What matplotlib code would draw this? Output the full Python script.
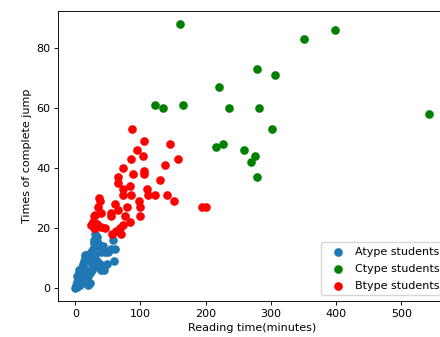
import matplotlib
matplotlib.use("Agg")
import matplotlib.pyplot as plt

# Atype students (blue)
a_x = [0, 1, 2, 3, 4, 2, 5, 6, 3, 8, 7, 10, 5, 9, 12, 8, 11, 14, 13, 15, 18, 20, 16, 19, 22,
       17, 21, 25, 24, 27, 28, 30, 29, 32, 33, 35, 31, 34, 36, 38, 40, 42, 45, 48, 50, 55, 58,
       60, 61, 44, 26, 22, 29, 40, 20, 23, 15, 35]
a_y = [0, 1, 0.5, 2, 3, 4, 5, 3, 1, 6, 2, 7, 6, 4, 8, 1, 3, 9, 5, 10, 2, 1, 6, 4, 5,
       11, 9, 8, 12, 13, 16, 18, 15, 14, 17, 15, 11, 9, 7, 8, 12, 14, 12, 8, 12, 13, 16,
       9, 13, 6, 6, 10, 8, 6, 5, 1.7, 11, 7.3]

# Ctype students (green)
c_x = [160, 350, 398, 278, 306, 220, 122, 135, 165, 235, 282, 543, 302, 216, 227, 258, 276,
       270, 279]
c_y = [88, 83, 86, 73, 71, 67, 61, 60, 61, 60, 60, 58, 53, 47, 48, 46, 44, 42, 37]

# Btype students (red)
b_x = [87, 106, 146, 95, 104, 85, 158, 138, 73, 105, 105, 89, 66, 66, 130, 84, 73, 110, 73,
       86, 112, 122, 141, 152, 97, 36, 38, 61, 100, 194, 201, 80, 35, 65, 55, 76, 100, 31,
       40, 55, 28, 84, 73, 68, 24, 33, 40, 30, 45, 56, 70, 62, 27, 28]
b_y = [53, 49, 48, 46, 44, 43, 43, 41, 40, 39, 38, 38, 37, 35, 36, 34, 33, 33, 31,
       31, 31, 31, 31, 29, 29, 30, 29, 28, 27, 27, 27, 27, 27, 26, 25, 24, 24, 24.5,
       25, 24, 24, 22, 21, 20, 21, 21.5, 20.5, 20, 20, 18, 18, 19, 22, 20]

plt.rcParams.update({
    "font.size": 8,
    "xtick.major.size": 2.8,
    "ytick.major.size": 2.8,
    "xtick.major.width": 0.65,
    "ytick.major.width": 0.65,
    "axes.linewidth": 0.65,
    "xtick.major.pad": 2.8,
    "ytick.major.pad": 2.8,
})

fig = plt.figure(figsize=(4.4, 3.37), dpi=100)
ax = fig.add_axes([58 / 440, 1 - 301 / 337, (447 - 58) / 440, (301 - 10.7) / 337])

ax.scatter(a_x, a_y, s=27, color="#1f77b4", label="Atype students")
ax.scatter(c_x, c_y, s=27, color="green", label="Ctype students")
ax.scatter(b_x, b_y, s=27, color="red", label="Btype students")

ax.set_xlim(-26.5, 570)
ax.set_ylim(-4.2, 92.3)
ax.set_xticks([0, 100, 200, 300, 400, 500])
ax.set_yticks([0, 20, 40, 60, 80])
ax.set_xlabel("Reading time(minutes)", labelpad=3)
ax.set_ylabel("Times of complete jump", labelpad=3)
ax.legend(loc="lower right", bbox_to_anchor=(1.0077, 0.0), fontsize=8,
          labelspacing=0.64, handlelength=2.27, handletextpad=0.4)

fig.savefig("out.png", dpi=100)
